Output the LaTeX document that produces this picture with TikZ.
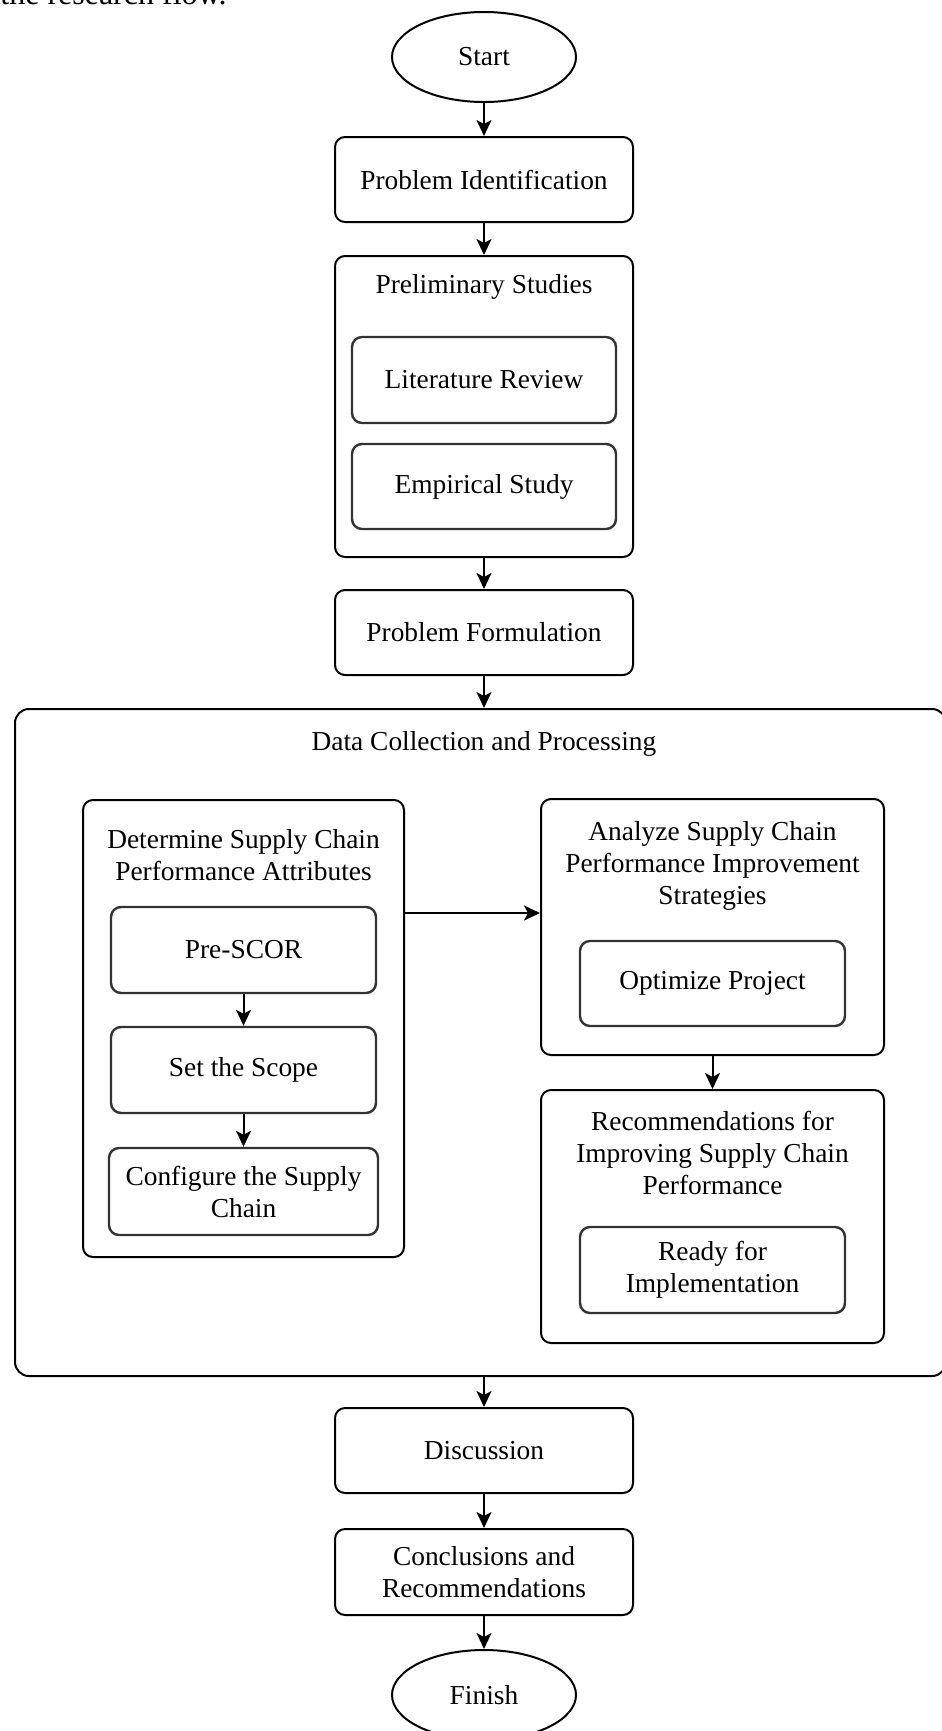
\documentclass[tikz,border=0pt]{standalone}
\usepackage{fontspec}
\setmainfont{Liberation Serif}
\usetikzlibrary{shapes.geometric,arrows.meta,calc}
\begin{document}
\begin{tikzpicture}[x=0.5pt,y=-0.5pt,
  font=\fontsize{13.7}{16}\selectfont,
  box/.style={draw=black, line width=1pt, rounded corners=5pt, align=center, inner sep=0pt},
  inbox/.style={box, draw=black!80, line width=1.2pt},
  oval/.style={draw, ellipse, line width=1pt, inner sep=0pt},
  arr/.style={-{Stealth[length=8pt,width=7.5pt,inset=2pt]}, line width=1pt},
  ttl/.style={align=center, inner sep=0pt}]

\useasboundingbox (0,0) rectangle (942,1731);
\node[anchor=base west, inner sep=0pt, font=\fontsize{16}{19}\selectfont] (hdr) at (0,4.3) {the research flow.};

\node[oval, minimum width=92pt, minimum height=45pt] (start) at (484,57) {Start};
\node[box, minimum width=149pt, minimum height=42.5pt] (pi) at (484,179.5) {Problem Identification};
\node[box, minimum width=149pt, minimum height=150.5pt] (prelim) at (484,406.5) {};
\node[ttl] (prelimT) at (484,287) {Preliminary Studies};
\node[inbox, minimum width=132pt, minimum height=43pt] (lit) at (484,380) {Literature Review};
\node[inbox, minimum width=132pt, minimum height=42.5pt] (emp) at (484,486.5) {Empirical Study};
\node[box, minimum width=149pt, minimum height=42.5pt] (pf) at (484,632.5) {Problem Formulation};

\node[box, rounded corners=7pt, minimum width=465.5pt, minimum height=333.5pt] (dcp) at (480.5,1042.5) {};
\node[ttl] (dcpT) at (484,744) {Data Collection and Processing};

\node[box, minimum width=160.5pt, minimum height=228.5pt] (det) at (243.5,1028.5) {};
\node[ttl] (detT) at (243.5,855) {Determine Supply Chain\\Performance Attributes};
\node[inbox, minimum width=132.5pt, minimum height=43pt] (pre) at (243.5,950) {Pre-SCOR};
\node[inbox, minimum width=132.5pt, minimum height=43pt] (scope) at (243.5,1070) {Set the Scope};
\node[inbox, minimum width=134.5pt, minimum height=43.5pt] (conf) at (243.5,1191.5) {Configure the Supply\\Chain};

\node[box, minimum width=171.5pt, minimum height=128pt] (ana) at (712.5,927) {};
\node[ttl] (anaT) at (712.5,866) {Analyze Supply Chain\\Performance Improvement\\Strategies};
\node[inbox, minimum width=132.5pt, minimum height=42.5pt] (opt) at (712.5,983.5) {Optimize Project};

\node[box, minimum width=171.5pt, minimum height=126.5pt] (rec) at (712.5,1216.5) {};
\node[ttl] (recT) at (712.5,1153) {Recommendations for\\Improving Supply Chain\\Performance};
\node[inbox, minimum width=132.5pt, minimum height=43pt] (ready) at (712.5,1270) {Ready for\\Implementation};

\node[box, minimum width=149pt, minimum height=42.5pt] (disc) at (484,1450.5) {Discussion};
\node[box, minimum width=149pt, minimum height=43pt] (concl) at (484,1572) {Conclusions and\\Recommendations};
\node[oval, minimum width=92pt, minimum height=45pt] (finish) at (484,1695) {Finish};

\coordinate (mid) at (0,913);
\draw[arr] (start.south) -- (pi.north);
\draw[arr] (pi.south) -- (prelim.north);
\draw[arr] (prelim.south) -- (pf.north);
\draw[arr] (pf.south) -- (pf.south |- dcp.north);
\draw[arr] (pre.south) -- (scope.north);
\draw[arr] (scope.south) -- (conf.north);
\draw[arr] (det.east |- mid) -- (ana.west |- mid);
\draw[arr] (ana.south) -- (rec.north);
\draw[arr] (disc.north |- dcp.south) -- (disc.north);
\draw[arr] (disc.south) -- (concl.north);
\draw[arr] (concl.south) -- (finish.north);
\end{tikzpicture}
\end{document}
